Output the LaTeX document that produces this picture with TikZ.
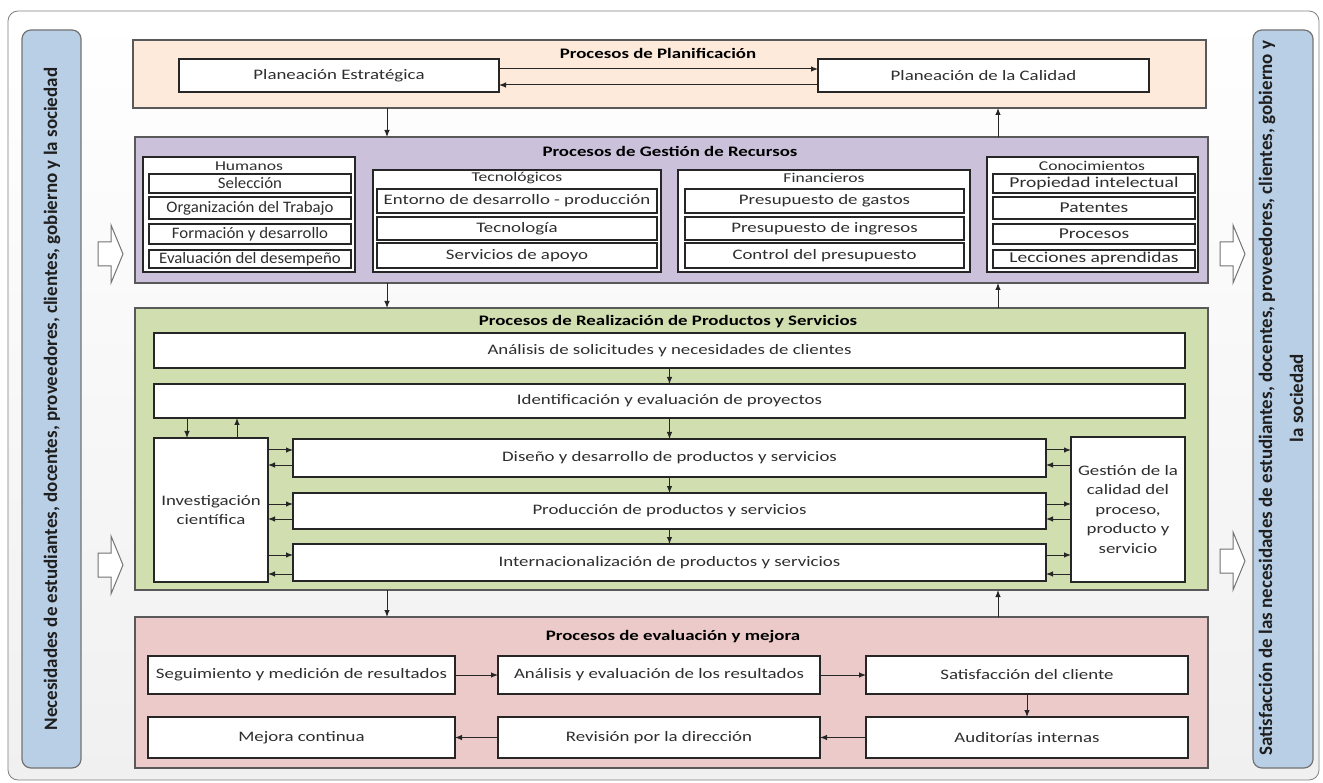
\documentclass[tikz,border=0pt]{standalone}
\usepackage{fontspec}
\setmainfont{Carlito}[FakeStretch=1.3]
\newfontfamily\sidefont{Carlito}
\newfontfamily\humfont{Carlito}[FakeStretch=1.05]
\usetikzlibrary{arrows.meta}

\definecolor{peach}{HTML}{FDEADA}
\definecolor{lav}{HTML}{CCC1DA}
\definecolor{grn}{HTML}{D0DEB0}
\definecolor{pnk}{HTML}{ECCAC9}
\definecolor{blu}{HTML}{B9CFE6}
\definecolor{txt}{HTML}{2E2E2E}
\definecolor{edge}{HTML}{262626}
\definecolor{bggrey}{HTML}{F0F0F0}

\tikzset{
 box/.style={draw=edge, line width=1.1pt, fill=white, inner sep=0pt, outer sep=0pt, text=txt, font=\fontsize{14.5}{17}\selectfont, align=center},
 region/.style={draw=black!65, line width=1.3pt, inner sep=0pt, outer sep=0pt},
 arr/.style={-{Latex[length=7pt,width=5.5pt]}, line width=1pt, draw=edge},
 ttl/.style={font=\bfseries\fontsize{14.5}{17}\selectfont, text=black, inner sep=0pt},
 grp/.style={font=\fontsize{13.5}{16}\selectfont, text=txt, inner sep=0pt},
 humtxt/.style={font=\humfont\fontsize{16}{18}\selectfont},
 contxt/.style={font=\fontsize{15}{18}\selectfont},
 multi/.style={font=\fontsize{14.5}{19.5}\selectfont},
 blockarrow/.style={draw=black!55, fill=white, line width=1pt, line join=miter},
 sidebar/.style={draw=black!55, fill=blu, rounded corners=9pt, line width=1.2pt, inner sep=0pt, outer sep=0pt},
 sidetext/.style={font=\sidefont\bfseries\fontsize{19}{31}\selectfont, text=black!88, rotate=90, align=center, inner sep=0pt},
 frame/.style={draw=black!50, line width=0.8pt, rounded corners=10pt, top color=white, bottom color=bggrey, inner sep=0pt, outer sep=0pt}
}

\newcommand{\mkbox}[7][]{\node[box,minimum width={#5-#3},minimum height={#6-#4},#1] (#2) at ({(#3+#5)/2},{(#4+#6)/2}) {#7};}
\newcommand{\blockarr}[2]{\draw[blockarrow] (#1,#2) ++(0,-12) -- ++(13,0) -- ++(0,-17) -- ++(12,29) -- ++(-12,29) -- ++(0,-17) -- ++(-13,0) -- cycle;}

\begin{document}
\begin{tikzpicture}[x=1pt,y=-1pt]
\useasboundingbox (0,0) rectangle (1323,783);

% outer frame
\mkbox[frame]{frm}{8}{11}{1319}{780}{}

% side bars
\mkbox[sidebar]{lbar}{22}{30}{81}{768}{}
\node[sidetext] (lbartxt) at (52,399) {Necesidades de estudiantes, docentes, proveedores, clientes, gobierno y la sociedad};
\mkbox[sidebar]{rbar}{1253}{30}{1313}{768}{}
\node[sidetext] (rbartxt) at (1281,398) {Satisfacción de las necesidades de estudiantes, docentes, proveedores, clientes, gobierno y\\la sociedad};

% block arrows
\blockarr{98}{254}
\blockarr{98}{565}
\blockarr{1220}{254}
\blockarr{1220}{561}

% Planning
\mkbox[region,fill=peach]{plan}{133}{40}{1206}{108}{}
\node[ttl] (planT) at (658,53) {Procesos de Planificación};
\mkbox{pe}{179}{59}{499}{92}{Planeación Estratégica}
\mkbox{pc}{818}{59}{1149}{92}{Planeación de la Calidad}
\draw[arr] (pe.east |- 0,69) -- (pc.west |- 0,69);
\draw[arr] (pc.west |- 0,85) -- (pe.east |- 0,85);

% Gestion
\mkbox[region,fill=lav]{gest}{135}{137}{1208}{283}{}
\node[ttl] (gestT) at (670,151) {Procesos de Gestión de Recursos};

\mkbox{humg}{143}{157}{355}{272}{}
\node[grp] (humL) at (249,166) {Humanos};
\mkbox[humtxt]{h1}{149}{174}{351}{193}{Selección}
\mkbox[humtxt]{h2}{149}{197}{351}{219}{Organización del Trabajo}
\mkbox[humtxt]{h3}{149}{224}{351}{244}{Formación y desarrollo}
\mkbox[humtxt]{h4}{149}{250}{351}{268}{Evaluación del desempeño}

\mkbox{tecg}{373}{170}{661}{272}{}
\node[grp] (tecL) at (517,178) {Tecnológicos};
\mkbox{t1}{377}{189}{657}{213}{Entorno de desarrollo - producción}
\mkbox{t2}{377}{217}{657}{240}{Tecnología}
\mkbox{t3}{377}{243}{657}{268}{Servicios de apoyo}

\mkbox{fing}{678}{170}{970}{272}{}
\node[grp] (finL) at (824,178) {Financieros};
\mkbox{f1}{685}{189}{964}{213}{Presupuesto de gastos}
\mkbox{f2}{685}{217}{964}{240}{Presupuesto de ingresos}
\mkbox{f3}{685}{243}{964}{268}{Control del presupuesto}

\mkbox{cong}{987}{157}{1198}{272}{}
\node[grp] (conL) at (1092,166) {Conocimientos};
\mkbox[contxt]{c1}{993}{174}{1195}{193}{Propiedad intelectual}
\mkbox[contxt]{c2}{993}{197}{1195}{219}{Patentes}
\mkbox[contxt]{c3}{993}{224}{1195}{244}{Procesos}
\mkbox[contxt]{c4}{993}{250}{1195}{268}{Lecciones aprendidas}

\draw[arr] (plan.south -| 387,0) -- (gest.north -| 387,0);
\draw[arr] (gest.north -| 998,0) -- (plan.south -| 998,0);

% Realizacion
\mkbox[region,fill=grn]{real}{135}{308}{1208}{590}{}
\node[ttl] (realT) at (668,322) {Procesos de Realización de Productos y Servicios};
\mkbox{ana}{154}{333}{1185}{368}{Análisis de solicitudes y necesidades de clientes}
\mkbox{ide}{154}{384}{1185}{418}{Identificación y evaluación de proyectos}
\mkbox[multi]{inv}{154}{438}{268}{582}{Investigación\\científica}
\mkbox{dis}{293}{439}{1046}{477}{Diseño y desarrollo de productos y servicios}
\mkbox{pro}{293}{493}{1046}{529}{Producción de productos y servicios}
\mkbox{int}{293}{544}{1046}{581}{Internacionalización de productos y servicios}
\mkbox[multi]{gca}{1071}{437}{1185}{582}{Gestión de la\\calidad del\\proceso,\\producto y\\servicio}

\draw[arr] (ana) -- (ide);
\draw[arr] (ide.south -| dis.north) -- (dis.north);
\draw[arr] (dis) -- (pro);
\draw[arr] (pro) -- (int);
\draw[arr] (ide.south -| 187,0) -- (inv.north -| 187,0);
\draw[arr] (inv.north -| 237,0) -- (ide.south -| 237,0);

\draw[arr] (inv.east |- 0,450) -- (dis.west |- 0,450);
\draw[arr] (dis.west |- 0,465) -- (inv.east |- 0,465);
\draw[arr] (inv.east |- 0,504) -- (pro.west |- 0,504);
\draw[arr] (pro.west |- 0,519) -- (inv.east |- 0,519);
\draw[arr] (inv.east |- 0,555) -- (int.west |- 0,555);
\draw[arr] (int.west |- 0,574) -- (inv.east |- 0,574);

\draw[arr] (dis.east |- 0,450) -- (gca.west |- 0,450);
\draw[arr] (gca.west |- 0,465) -- (dis.east |- 0,465);
\draw[arr] (pro.east |- 0,504) -- (gca.west |- 0,504);
\draw[arr] (gca.west |- 0,519) -- (pro.east |- 0,519);
\draw[arr] (int.east |- 0,555) -- (gca.west |- 0,555);
\draw[arr] (gca.west |- 0,574) -- (int.east |- 0,574);

\draw[arr] (gest.south -| 387,0) -- (real.north -| 387,0);
\draw[arr] (real.north -| 998,0) -- (gest.south -| 998,0);

% Evaluacion
\mkbox[region,fill=pnk]{eval}{135}{617}{1208}{768}{}
\node[ttl] (evalT) at (673,637) {Procesos de evaluación y mejora};
\mkbox{seg}{148}{656}{455}{694}{Seguimiento y medición de resultados}
\mkbox{ane}{498}{656}{820}{694}{Análisis y evaluación de los resultados}
\mkbox{sat}{866}{656}{1188}{694}{Satisfacción del cliente}
\mkbox{mej}{148}{717}{455}{758}{Mejora continua}
\mkbox{rev}{498}{717}{820}{758}{Revisión por la dirección}
\mkbox{aud}{866}{717}{1188}{758}{Auditorías internas}

\draw[arr] (seg) -- (ane);
\draw[arr] (ane) -- (sat);
\draw[arr] (sat) -- (aud);
\draw[arr] (aud) -- (rev);
\draw[arr] (rev) -- (mej);

\draw[arr] (real.south -| 387,0) -- (eval.north -| 387,0);
\draw[arr] (eval.north -| 998,0) -- (real.south -| 998,0);
\end{tikzpicture}
\end{document}
